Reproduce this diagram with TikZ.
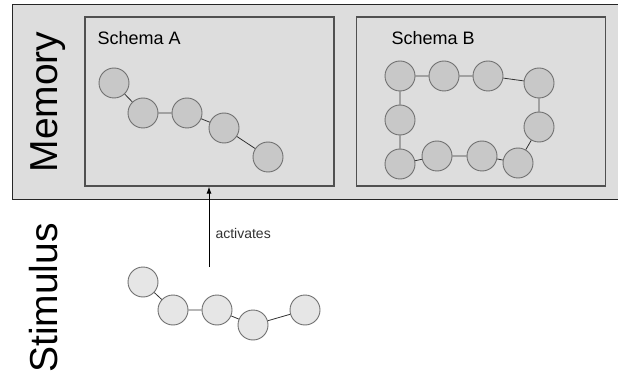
\documentclass[tikz,border=0pt]{standalone}
\usepackage{fontspec}
\setmainfont{Liberation Sans}
\usetikzlibrary{arrows.meta}
\definecolor{memfill}{HTML}{DDDDDD}
\definecolor{boxline}{HTML}{505050}
\definecolor{nodefill}{HTML}{C8C8C8}
\definecolor{stimfill}{HTML}{E6E6E6}
\definecolor{ringline}{HTML}{707070}
\tikzset{
  schemabox/.style={draw=boxline, fill=memfill, line width=1.2pt, minimum width=249pt, minimum height=169pt, inner sep=0pt},
  mnode/.style={circle, draw=ringline, fill=nodefill, line width=0.9pt, minimum size=30pt, inner sep=0pt},
  snode/.style={circle, draw=ringline, fill=stimfill, line width=0.9pt, minimum size=30pt, inner sep=0pt},
  link/.style={draw=black!80, line width=0.8pt},
  biglabel/.style={rotate=90, anchor=base, font=\fontsize{39}{40}\selectfont},
  schlabel/.style={anchor=west, font=\fontsize{18}{20}\selectfont},
}
\begin{document}
\begin{tikzpicture}[x=1pt,y=-1pt]
\useasboundingbox (0,0) rectangle (618,374);
\fill[white] (0,0) rectangle (618,374);
% memory band
\fill[memfill] (12,5) rectangle (618,200);
\draw[black!85, line width=1pt] (618,5) -- (12,5) -- (12,200) -- (618,200);
\node[biglabel] (mem) at (57,102) {Memory};
\node[biglabel] (stim) at (57,298) {Stimulus};
% schema boxes
\node[schemabox] (A) at (209.5,101.5) {};
\node[schemabox] (B) at (481,101.5) {};
\node[schlabel] (la) at (94,38) {Schema A};
\node[schlabel] (lb) at (388,38) {Schema B};
% schema A
\node[mnode] (a1) at (114,83) {};
\node[mnode] (a2) at (143,113) {};
\node[mnode] (a3) at (187,113) {};
\node[mnode] (a4) at (224,128) {};
\node[mnode] (a5) at (268,157) {};
\draw[link] (a1) -- (a2) (a2) -- (a3) (a3) -- (a4) (a4) -- (a5);
% schema B
\node[mnode] (b1) at (400,76) {};
\node[mnode] (b2) at (444,76) {};
\node[mnode] (b3) at (488,76) {};
\node[mnode] (b4) at (539,83) {};
\node[mnode] (b5) at (539,127) {};
\node[mnode] (b6) at (518,163) {};
\node[mnode] (b7) at (482,156) {};
\node[mnode] (b8) at (437,156) {};
\node[mnode] (b9) at (400,164) {};
\node[mnode] (b10) at (400,120) {};
\draw[link] (b1) -- (b2) (b2) -- (b3) (b3) -- (b4) (b4) -- (b5) (b5) -- (b6)
  (b6) -- (b7) (b7) -- (b8) (b8) -- (b9) (b9) -- (b10) (b10) -- (b1);
% stimulus
\node[snode] (s1) at (143,282) {};
\node[snode] (s2) at (173,310) {};
\node[snode] (s3) at (217,310) {};
\node[snode] (s4) at (253,325) {};
\node[snode] (s5) at (305,310) {};
\draw[link] (s1) -- (s2) (s2) -- (s3) (s3) -- (s4) (s4) -- (s5);
% activation arrow
\coordinate (src) at (209,267);
\draw[line width=0.9pt, -{Latex[length=7pt,width=5pt]}] (src) -- (src |- A.south);
\node[anchor=west, font=\fontsize{14}{16}\selectfont, text=black!80] (act) at (212,233) {activates};
\end{tikzpicture}
\end{document}
